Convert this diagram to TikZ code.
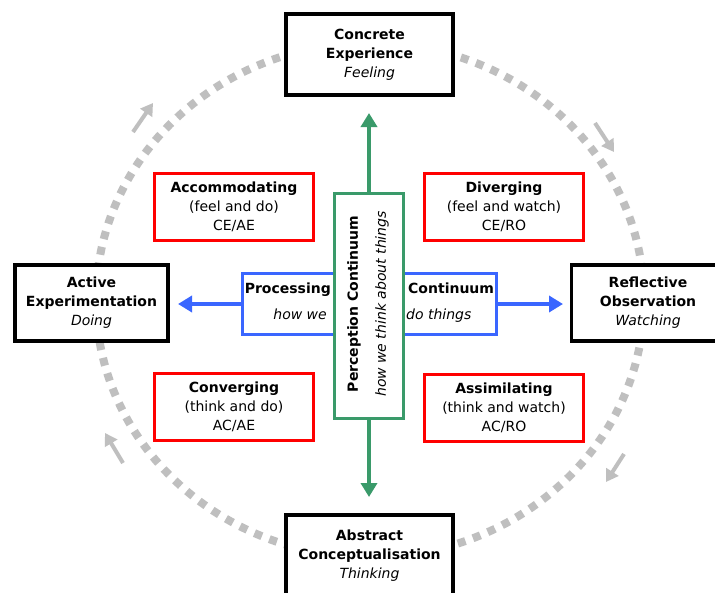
\documentclass[tikz,border=0pt]{standalone}
\usepackage{fontspec}
\setmainfont{DejaVu Sans}
\usetikzlibrary{arrows.meta}
\definecolor{dotgray}{HTML}{BFBFBF}
\definecolor{pgreen}{HTML}{3A9A6A}
\definecolor{pblue}{HTML}{3A66FF}
\definecolor{pred}{HTML}{FF0000}
\begin{document}
\begin{tikzpicture}[x=1pt,y=-1pt,
  every node/.style={font=\fontsize{14}{19}\selectfont, align=center, inner sep=0pt},
  stagebox/.style={draw=black, line width=3.5pt, fill=white, minimum width=167pt, minimum height=81pt},
  sidebox/.style={draw=black, line width=3.5pt, fill=white, minimum width=153pt, minimum height=76pt},
  stylebox/.style={draw=pred, line width=3pt, fill=white, minimum width=159pt, minimum height=67pt},
  cycle dots/.style={draw=dotgray, line width=8pt, dash pattern=on 8pt off 8pt},
  cycle arrow/.style={draw=dotgray, line width=4pt, -{Triangle[length=12pt,width=14pt]}},
  green arrow/.style={draw=pgreen, line width=3.5pt, -{Triangle[length=14pt,width=16pt]}},
  blue arrow/.style={draw=pblue, line width=4pt, -{Triangle[length=14pt,width=16pt]}},
  ]
\useasboundingbox (0,0) rectangle (715,592);
\fill[white] (0,0) rectangle (715,592);

% cycle
\draw[cycle dots] (370,300) ellipse [x radius=274, y radius=257];
\coordinate (tl1) at (133,132); \coordinate (tl2) at (153,103);
\coordinate (tr1) at (595,123); \coordinate (tr2) at (614,152);
\coordinate (br1) at (624,454); \coordinate (br2) at (606,482);
\coordinate (bl1) at (123,463); \coordinate (bl2) at (105,433);
\draw[cycle arrow] (tl1) -- (tl2);
\draw[cycle arrow] (tr1) -- (tr2);
\draw[cycle arrow] (br1) -- (br2);
\draw[cycle arrow] (bl1) -- (bl2);

% stages
\node[stagebox] (ce) at (369.5,54.5) {\textbf{Concrete}\\\textbf{Experience}\\\textit{Feeling}};
\node[sidebox] (ae) at (91.5,303) {\textbf{Active}\\\textbf{Experimentation}\\\textit{Doing}};
\node[sidebox] (ro) at (648,303) {\textbf{Reflective}\\\textbf{Observation}\\\textit{Watching}};
\node[stagebox] (ac) at (369.5,555.5) {\textbf{Abstract}\\\textbf{Conceptualisation}\\\textit{Thinking}};

% learning styles
\node[stylebox] (acc) at (234,207) {\textbf{Accommodating}\\(feel and do)\\CE/AE};
\node[stylebox] (div) at (504,207) {\textbf{Diverging}\\(feel and watch)\\CE/RO};
\node[stylebox] (con) at (234,407) {\textbf{Converging}\\(think and do)\\AC/AE};
\node[stylebox] (ass) at (504,408) {\textbf{Assimilating}\\(think and watch)\\AC/RO};

% processing continuum
\node[draw=pblue, line width=3pt, fill=white, minimum width=254pt, minimum height=61pt] (proc) at (369.5,304) {};
\node[anchor=base east] (p1) at (331,293) {\textbf{Processing}};
\node[anchor=base west] (p2) at (408,293) {\textbf{Continuum}};
\node[anchor=base east] (p3) at (327,319) {\textit{how we}};
\node[anchor=base west] (p4) at (406,319) {\textit{do things}};
\coordinate (pl) at (178,304);
\coordinate (pr) at (563,304);
\draw[blue arrow] (proc.west) -- (pl);
\draw[blue arrow] (proc.east) -- (pr);

% perception continuum
\node[draw=pgreen, line width=3pt, fill=white, minimum width=69pt, minimum height=225pt] (perc) at (369,306) {};
\node[rotate=90] (q1) at (354,304) {\textbf{Perception Continuum}};
\node[rotate=90] (q2) at (382,304) {\textit{how we think about things}};
\coordinate (pt) at (369,113);
\coordinate (pb) at (369,497);
\draw[green arrow] (perc.north) -- (pt);
\draw[green arrow] (perc.south) -- (pb);
\end{tikzpicture}
\end{document}
